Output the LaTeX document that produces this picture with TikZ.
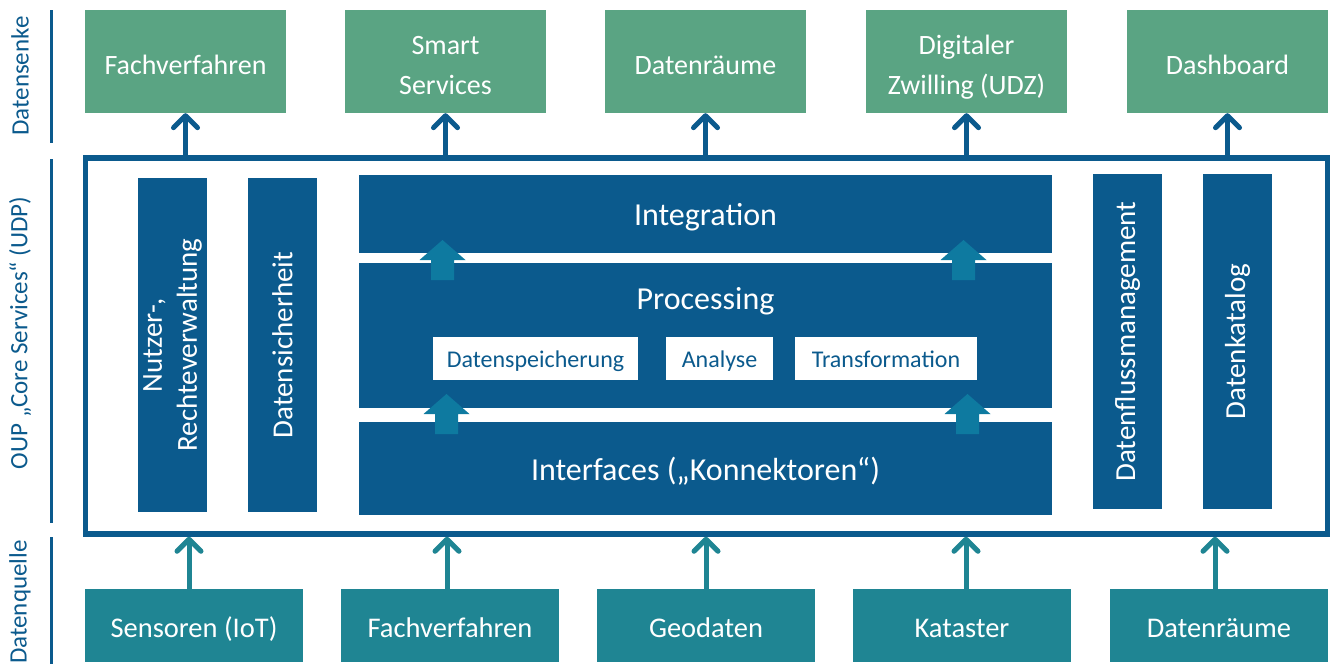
\documentclass[tikz,border=0pt]{standalone}
\usepackage{fontspec}
\setmainfont{Carlito}
\usetikzlibrary{arrows.meta}
\definecolor{sinkgreen}{HTML}{5AA483}
\definecolor{coreblue}{HTML}{0B5A8D}
\definecolor{srcteal}{HTML}{1F8593}
\definecolor{arrteal}{HTML}{0E7AA0}
\begin{document}
\begin{tikzpicture}[x=1pt,y=-1pt,
  sink/.style={fill=sinkgreen, text=white, minimum width=201pt, minimum height=103pt, inner sep=0pt, align=center, text height=25pt, text depth=0pt, font=\fontsize{28}{40}\selectfont},
  twoline/.style={text height=65pt},
  source/.style={fill=srcteal, text=white, minimum width=218pt, minimum height=73pt, inner sep=0pt, align=center, text height=23pt, text depth=0pt, font=\fontsize{28.5}{34}\selectfont},
  corebox/.style={draw=coreblue, line width=5.5pt, minimum width=1242pt, minimum height=376pt, inner sep=0pt},
  vbar/.style={fill=coreblue, text=white, rotate=90, minimum width=334pt, minimum height=69pt, inner sep=0pt, align=center, font=\fontsize{29}{35}\selectfont},
  hbar/.style={fill=coreblue, text=white, minimum width=693pt, inner sep=0pt},
  bartext/.style={text=white, inner sep=0pt, anchor=base, font=\fontsize{32}{38}\selectfont},
  wbox/.style={fill=white, text=coreblue, minimum height=43pt, inner sep=0pt, text height=17pt, text depth=0pt, font=\fontsize{24}{28}\selectfont},
  sidelabel/.style={text=coreblue, rotate=90, inner sep=0pt, font=\fontsize{25}{28}\selectfont},
  sideline/.style={draw=coreblue, line width=3pt},
  uparrow/.style={draw=coreblue, line width=5pt, -{Straight Barb[length=12pt, width=24pt, line cap=round, line join=round]}},
  srcarrow/.style={draw=srcteal, line width=5pt, -{Straight Barb[length=12pt, width=24pt, line cap=round, line join=round]}},
  blockarrow/.pic={\fill[arrteal] (0,0) -- (23,20) -- (11.5,20) -- (11.5,40) -- (-11.5,40) -- (-11.5,20) -- (-23,20) -- cycle;}
]
\useasboundingbox (0,0) rectangle (1330,664);

% side labels
\coordinate (l1a) at (51,10);  \coordinate (l1b) at (51,143);
\coordinate (l2a) at (51,159); \coordinate (l2b) at (51,523);
\coordinate (l3a) at (51,537); \coordinate (l3b) at (51,664);
\draw[sideline] (l1a) -- (l1b);
\draw[sideline] (l2a) -- (l2b);
\draw[sideline] (l3a) -- (l3b);
\node[sidelabel] (lab1) at (20,76) {Datensenke};
\node[sidelabel] (lab2) at (20,333) {OUP „Core Services“ (UDP)};
\node[sidelabel] (lab3) at (20,602) {Datenquelle};

% sinks
\node[sink] (s1) at (185.5,61.5) {Fachverfahren};
\node[sink, twoline] (s2) at (445.5,61.5) {Smart\\Services};
\node[sink] (s3) at (705.5,61.5) {Datenräume};
\node[sink, twoline] (s4) at (966.5,61.5) {Digitaler\\Zwilling (UDZ)};
\node[sink] (s5) at (1227.5,61.5) {Dashboard};

% core box
\node[corebox] (core) at (706.5,346) {};

% vertical bars
\node[vbar] (nutzer) at (172.5,345) {Nutzer-,\\Rechteverwaltung};
\node[vbar] (sicher) at (282.5,345) {Datensicherheit};
\node[vbar, minimum width=335pt] (fluss) at (1127.5,341.5) {Datenflussmanagement};
\node[vbar, minimum width=335pt] (katalog) at (1237.5,341.5) {Datenkatalog};

% horizontal bars
\node[hbar, minimum height=78pt] (integ) at (705.5,214) {};
\node[bartext] (integt) at (705.5,225) {Integration};
\node[hbar, minimum height=145pt] (proc) at (705.5,335.5) {};
\node[bartext] (proct) at (705.5,309) {Processing};
\node[hbar, minimum height=93pt] (inter) at (705.5,468.5) {};
\node[bartext] (intert) at (705.5,480) {Interfaces („Konnektoren“)};

% white boxes
\node[wbox, minimum width=205pt] (speich) at (535.5,358.5) {Datenspeicherung};
\node[wbox, minimum width=107pt] (analyse) at (719.5,358.5) {Analyse};
\node[wbox, minimum width=182pt] (trans) at (886,358.5) {Transformation};

% block arrows
\pic at (442.5,240) {blockarrow};
\pic at (963.5,240) {blockarrow};
\pic at (446.5,394) {blockarrow};
\pic at (967.5,394) {blockarrow};

% arrows to sinks
\foreach \s in {s1,s2,s3,s4,s5}
  \draw[uparrow] (core.north -| \s.south) -- (\s.south);

% sources
\node[source] (q1) at (194,625.5) {Sensoren (IoT)};
\node[source] (q2) at (450,625.5) {Fachverfahren};
\node[source] (q3) at (706,625.5) {Geodaten};
\node[source] (q4) at (962,625.5) {Kataster};
\node[source] (q5) at (1219,625.5) {Datenräume};

\draw[srcarrow] ([xshift=-5pt]q1.north) -- ([xshift=-5pt]q1.north |- core.south);
\draw[srcarrow] ([xshift=-3pt]q2.north) -- ([xshift=-3pt]q2.north |- core.south);
\draw[srcarrow] (q3.north) -- (q3.north |- core.south);
\draw[srcarrow] ([xshift=4pt]q4.north) -- ([xshift=4pt]q4.north |- core.south);
\draw[srcarrow] ([xshift=-4pt]q5.north) -- ([xshift=-4pt]q5.north |- core.south);
\end{tikzpicture}
\end{document}
